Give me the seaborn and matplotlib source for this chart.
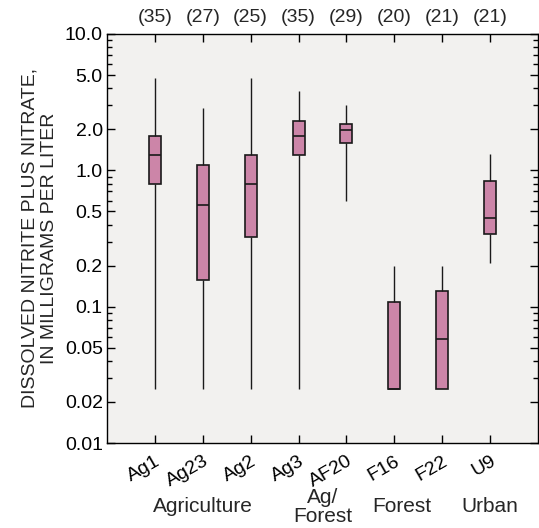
import numpy as np
import pandas as pd
import matplotlib
matplotlib.use("Agg")
import matplotlib.pyplot as plt
import matplotlib.ticker as mticker
from matplotlib.transforms import blended_transform_factory
import seaborn as sns

# ---- data (five-number summaries) ----
sites = ["Ag1", "Ag23", "Ag2", "Ag3", "AF20", "F16", "F22", "U9"]
counts = ["(35)", "(27)", "(25)", "(35)", "(29)", "(20)", "(21)", "(21)"]
minimum = [0.025, 0.025, 0.025, 0.025, 0.60, 0.025, 0.025, 0.21]
lower_q = [0.79, 0.158, 0.322, 1.29, 1.58, 0.025, 0.025, 0.339]
median = [1.29, 0.56, 0.79, 1.79, 1.99, 0.025, 0.058, 0.449]
upper_q = [1.79, 1.09, 1.29, 2.29, 2.17, 0.109, 0.13, 0.84]
maximum = [4.75, 2.86, 4.75, 3.84, 3.0, 0.2, 0.2, 1.31]
groups = ["Agriculture", "Ag/\nForest", "Forest", "Urban"]
group_pos = [1.0, 3.5, 5.16, 7.0]
ytick_vals = [0.01, 0.02, 0.05, 0.1, 0.2, 0.5, 1.0, 2.0, 5.0, 10.0]
ytick_labels = ["0.01", "0.02", "0.05", "0.1", "0.2", "0.5", "1.0", "2.0", "5.0", "10.0"]
ylabel = "DISSOLVED NITRITE PLUS NITRATE,\nIN MILLIGRAMS PER LITER"

rows = []
for i, s in enumerate(sites):
    for v in (minimum[i], lower_q[i], median[i], upper_q[i], maximum[i]):
        rows.append({"site": s, "value": v})
df = pd.DataFrame(rows)

sns.set_style("ticks")
plt.rcParams["font.family"] = ["Liberation Sans", "DejaVu Sans"]
plt.rcParams["font.size"] = 14

FS = 14

fig = plt.figure(figsize=(5.39, 5.28), dpi=100)
ax = fig.add_axes([107 / 539, 1 - 443 / 528, (538 - 107) / 539, (443 - 34) / 528])
ax.set_facecolor("#F2F1EF")
ax.set_yscale("log")

sns.boxplot(
    data=df, x="site", y="value", order=sites, ax=ax,
    width=0.25, whis=(0, 100), showcaps=False, showfliers=False,
    color="#CC85A8", saturation=1,
    boxprops=dict(edgecolor="#1a1a1a", linewidth=1.2, facecolor="#CC85A8"),
    medianprops=dict(color="#1a1a1a", linewidth=1.2),
    whiskerprops=dict(color="#1a1a1a", linewidth=1.0),
)

ax.set_xlim(-1, len(sites))
ax.set_ylim(0.01, 10.0)
ax.set_xlabel("")
ax.set_ylabel(ylabel, fontsize=FS, linespacing=1.15, labelpad=5)

ax.yaxis.set_major_locator(mticker.FixedLocator(ytick_vals))
ax.yaxis.set_major_formatter(mticker.FixedFormatter(ytick_labels))
ax.yaxis.set_minor_locator(mticker.LogLocator(base=10, subs=(3, 4, 6, 7, 8, 9)))
ax.yaxis.set_minor_formatter(mticker.NullFormatter())

ax.tick_params(axis="both", which="both", direction="in", top=True, right=True,
               colors="black", width=1.0)
ax.tick_params(axis="both", which="major", length=6, labelsize=FS)
ax.tick_params(axis="y", which="minor", length=3.5)
ax.tick_params(axis="y", which="major", pad=3)

ax.set_xticks(range(len(sites)))
ax.set_xticklabels(sites, rotation=30, ha="right", rotation_mode="anchor", fontsize=FS)
ax.tick_params(axis="x", which="major", pad=7)

for sp in ax.spines.values():
    sp.set_color("black")
    sp.set_linewidth(1.0)

tr = blended_transform_factory(ax.transData, fig.transFigure)
for i, c in enumerate(counts):
    ax.text(i, 1 - 18 / 528, c, transform=tr, ha="center", va="center", fontsize=FS)
for g, p in zip(groups, group_pos):
    ax.text(p, 1 - 507 / 528, g, transform=tr, ha="center", va="center",
            fontsize=15, linespacing=1.0)

fig.savefig("out.png", dpi=100)
